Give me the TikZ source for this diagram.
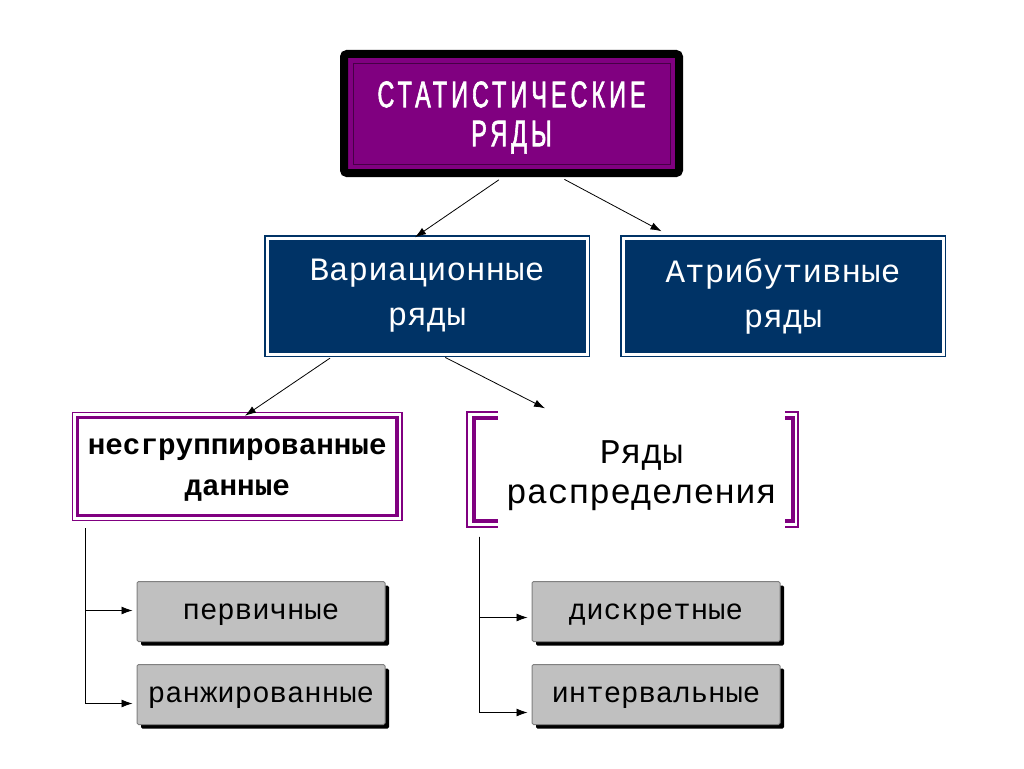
\documentclass[tikz,border=0pt]{standalone}
\usepackage{fontspec}
\setmainfont{Liberation Mono}
\newfontfamily\titlefont[FakeStretch=0.63,LetterSpace=11,FakeBold=1.6]{Liberation Sans}
\usetikzlibrary{positioning,arrows.meta,shadows}
\definecolor{stpurple}{HTML}{800080}
\definecolor{stnavy}{HTML}{003366}
\definecolor{stgray}{HTML}{C0C0C0}
\definecolor{stedge}{HTML}{808080}

\begin{document}
\begin{tikzpicture}[x=1pt, y=-1pt,
    titlebox/.style={draw=black, line width=8pt, fill=stpurple, rounded corners=3pt,
        minimum width=335pt, minimum height=119pt},
    titletext/.style={text=white, align=center,
        font=\titlefont\fontsize{37}{39}\selectfont},
    kindbox/.style={draw=stnavy, line width=1.5pt, double=white, double distance=3pt,
        fill=stnavy, minimum width=320pt, minimum height=116pt, text=white, align=center,
        font=\fontsize{32.6}{45}\selectfont},
    groupbox/.style={draw=stpurple, line width=3.5pt, fill=white,
        minimum width=319.5pt, minimum height=98pt},
    grouptext/.style={align=center, font=\bfseries\fontsize{29.3}{41}\selectfont},
    bracketbox/.style={minimum width=331pt, minimum height=114pt},
    brackettext/.style={align=center, font=\fontsize{34.7}{40}\selectfont},
    leafbox/.style={draw=stedge, line width=1pt, fill=stgray, rounded corners=1.5pt,
        minimum width=248pt, minimum height=60pt, font=\fontsize{29}{34}\selectfont,
        text height=21pt, text depth=6pt,
        drop shadow={shadow xshift=4pt, shadow yshift=-4pt, fill=black, opacity=1}},
    arr/.style={-{Latex[length=11pt,width=7.5pt]}, black, line width=0.8pt},
    tree/.style={-{Latex[length=11pt,width=8pt]}, black, line width=0.8pt},
    ]
    \fill[white] (0,0) rectangle (1024,768);
    \useasboundingbox (0,0) rectangle (1024,768);

    %Nodes
    \node[titlebox, label={[titletext, yshift=-4pt]center:СТАТИСТИЧЕСКИЕ\\РЯДЫ}]
        (stat) at (511.5,113.5) {};
    \draw[stpurple!55!black, line width=1pt]
        ([shift={(13pt,-13pt)}]stat.north west) rectangle ([shift={(-13pt,13pt)}]stat.south east);

    \node[kindbox] (var) at (427,296) {Вариационные\\ряды};
    \node[kindbox] (atr) [right=34.5pt of var] {Атрибутивные\\ряды};

    \node[groupbox, label={[grouptext, yshift=-4pt]center:несгруппированные\\данные}]
        (ng) at (237.25,466.5) {};
    \draw[stpurple, line width=1.5pt]
        ([shift={(-3.25pt,3.25pt)}]ng.north west) rectangle ([shift={(3.25pt,-3.25pt)}]ng.south east);

    \node[bracketbox, label={[brackettext, shift={(9pt,-6pt)}]center:Ряды\\распределения}]
        (rd) at (632.5,469.5) {};
    % brackets
    \draw[stpurple, line width=2pt]
        ([xshift=31pt]rd.north west) -- (rd.north west) -- (rd.south west) -- ([xshift=31pt]rd.south west);
    \draw[stpurple, line width=4pt]
        ([shift={(31pt,-6pt)}]rd.north west) -- ([shift={(7pt,-6pt)}]rd.north west)
        -- ([shift={(7pt,6pt)}]rd.south west) -- ([shift={(31pt,6pt)}]rd.south west);
    \draw[stpurple, line width=2pt]
        ([xshift=-13pt]rd.north east) -- (rd.north east) -- (rd.south east) -- ([xshift=-13pt]rd.south east);
    \draw[stpurple, line width=4pt]
        ([shift={(-13pt,-6pt)}]rd.north east) -- ([shift={(-5pt,-6pt)}]rd.north east)
        -- ([shift={(-5pt,6pt)}]rd.south east) -- ([shift={(-13pt,6pt)}]rd.south east);

    \node[leafbox] (prim) at (261,611.5) {первичные};
    \node[leafbox] (rank) [below=22pt of prim] {ранжированные};
    \node[leafbox] (disc) at (656,611.5) {дискретные};
    \node[leafbox] (intv) [below=22pt of disc] {интервальные};

    %Lines
    \draw[arr, shorten <=5pt] ([xshift=-8.5pt]stat.south) -- ([xshift=-12pt]var.north);
    \draw[arr, shorten <=5pt] ([xshift=48.5pt]stat.south) -- ([shift={(-121.5pt,6pt)}]atr.north);
    \draw[arr, shorten <=6pt] ([xshift=-92pt]var.south) -- ([xshift=7.75pt]ng.north);
    \draw[arr, shorten <=6pt] ([xshift=13pt]var.south) -- ([shift={(-87.5pt,4pt)}]rd.north);

    \draw[tree, shorten >=4pt] ([shift={(9.25pt,-11pt)}]ng.south west) |- ([yshift=1pt]prim.west);
    \draw[tree, shorten >=4pt] ([shift={(9.25pt,-11pt)}]ng.south west) |- ([yshift=-9pt]rank.west);
    \draw[tree, shorten >=4pt] ([shift={(13pt,-10pt)}]rd.south west) |- ([yshift=-6pt]disc.west);
    \draw[tree, shorten >=4pt] ([shift={(13pt,-10pt)}]rd.south west) |- ([yshift=-18pt]intv.west);
\end{tikzpicture}
\end{document}
